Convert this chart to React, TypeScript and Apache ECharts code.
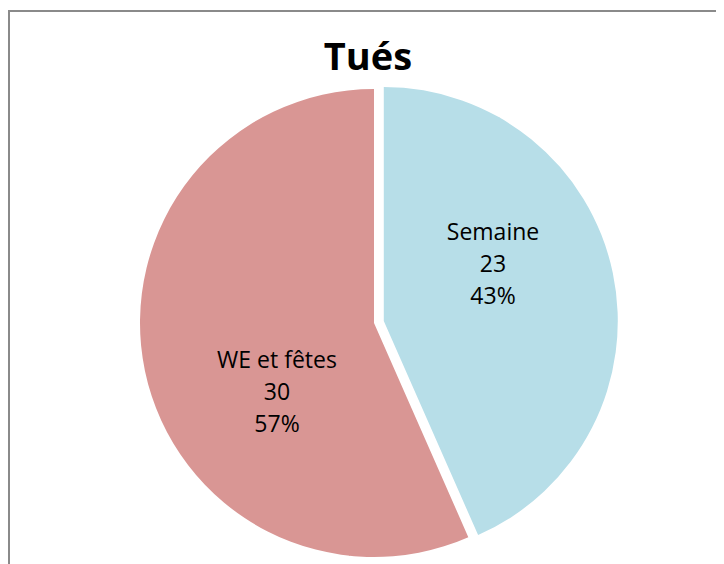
import React, { useEffect, useRef } from "react";
import * as echarts from "echarts";

const categories = ["Semaine", "WE et fêtes"];
const values = [23, 30];
const colors = ["#B7DEE8", "#D99694"];
const titleText = "Tués";

// explode offset of the "Semaine" slice along its bisector
const explode = 10;

export default function App() {
  const ref = useRef<HTMLDivElement>(null);
  useEffect(() => {
    if (!ref.current) return;
    const chart = echarts.init(ref.current, null, { renderer: "svg" });
    const total = values.reduce((a, b) => a + b, 0);
    const mid = ((values[0] / total) * Math.PI * 2) / 2;
    const cx = 366;
    const cy = 315;
    const labelPos = [
      { x: 485, y: 255 },
      { x: 269, y: 383 },
    ];
    const makeSeries = (idx: number, center: number[]) => ({
      type: "pie",
      center,
      radius: 234,
      startAngle: 90,
      clockwise: true,
      percentPrecision: 0,
      itemStyle: { borderWidth: 0 },
      emphasis: { disabled: true },
      label: {
        show: true,
        position: "inside",
        formatter: "{b}\n{c}\n{d}%",
        fontFamily: "Open Sans",
        fontSize: 23,
        lineHeight: 32,
        color: "#000",
      },
      labelLayout: (p: any) => (p.dataIndex === idx ? labelPos[idx] : {}),
      data: categories.map((name, i) => ({
        name,
        value: values[i],
        itemStyle: { color: i === idx ? colors[i] : "rgba(0,0,0,0)" },
        label: { show: i === idx },
      })),
    });
    chart.setOption({
      animation: false,
      title: {
        text: titleText,
        left: 355,
        top: 23,
        textAlign: "center",
        textStyle: { fontFamily: "Open Sans", fontWeight: "bold", fontSize: 38, color: "#000" },
      },
      graphic: [
        {
          type: "rect",
          shape: { x: 1, y: 3, width: 900, height: 900 },
          style: { fill: "none", stroke: "#8a8a8a", lineWidth: 2 },
          silent: true,
          z: -1,
        },
      ],
      series: [
        makeSeries(1, [cx, cy]),
        makeSeries(0, [cx + explode * Math.sin(mid), cy - explode * Math.cos(mid)]),
      ],
    });
    return () => chart.dispose();
  }, []);
  return <div ref={ref} style={{ width: 716, height: 556 }} />;
}
